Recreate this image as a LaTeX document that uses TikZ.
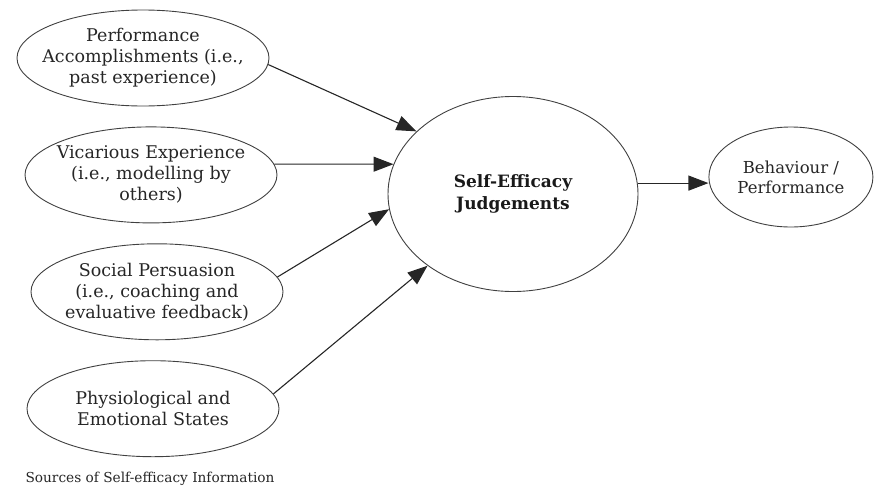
\documentclass[tikz,border=0pt]{standalone}
\usepackage{fontspec}
\setmainfont{DejaVu Serif}
\usetikzlibrary{positioning, shapes.geometric, arrows.meta}

\begin{document}
\begin{tikzpicture}[x=1pt, y=-1pt,
	source/.style={ellipse, draw=black!75, line width=0.9pt, minimum width=252pt, minimum height=96pt, inner xsep=-20pt, inner ysep=0pt, align=center, text=black!85, font=\fontsize{17.5}{21}\selectfont},
	judge/.style={ellipse, draw=black!75, line width=0.9pt, minimum width=250pt, minimum height=195pt, inner sep=0pt, align=center, text=black!90, font=\fontsize{17}{22}\selectfont\bfseries},
	outcome/.style={ellipse, draw=black!75, line width=0.9pt, minimum width=164pt, minimum height=100pt, inner xsep=-10pt, inner ysep=0pt, align=center, text=black!85, font=\fontsize{16.5}{20}\selectfont},
	influence/.style={draw=black!85, line width=1.1pt, -{Triangle[length=20pt, width=15pt]}}]
	\useasboundingbox (0,0) rectangle (874,490);
	
	\node[source] (perf) at (143,58) {Performance\\Accomplishments (i.e.,\\past experience)};
	\node[source, below=20pt of perf, xshift=8pt] (vic) {Vicarious Experience\\(i.e., modelling by\\others)};
	\node[source, below=20pt of vic, xshift=6pt] (soc) {Social Persuasion\\(i.e., coaching and\\evaluative feedback)};
	\node[source, below=20pt of soc, xshift=-4pt] (phys) {Physiological and\\Emotional States};
	\node[below=11pt of phys, xshift=-3pt, text=black!85, font=\fontsize{13.7}{16}\selectfont] (caption) {Sources of Self-efficacy Information};
	
	\node[judge] (sej) at (513,194) {Self-Efficacy\\Judgements};
	\node[outcome, right=70pt of sej, yshift=17pt] (beh) {Behaviour /\\Performance};
	
	\draw[influence] (perf.-3) -- (sej.147.6);
	\draw[influence] (vic.5) -- (sej.166);
	\draw[influence] (soc.7.4) -- (sej.187.7);
	\draw[influence] (phys.7.3) -- (sej.220);
	\draw[influence] (sej.5) -- (sej.5 -| beh.west);
\end{tikzpicture}
\end{document}
